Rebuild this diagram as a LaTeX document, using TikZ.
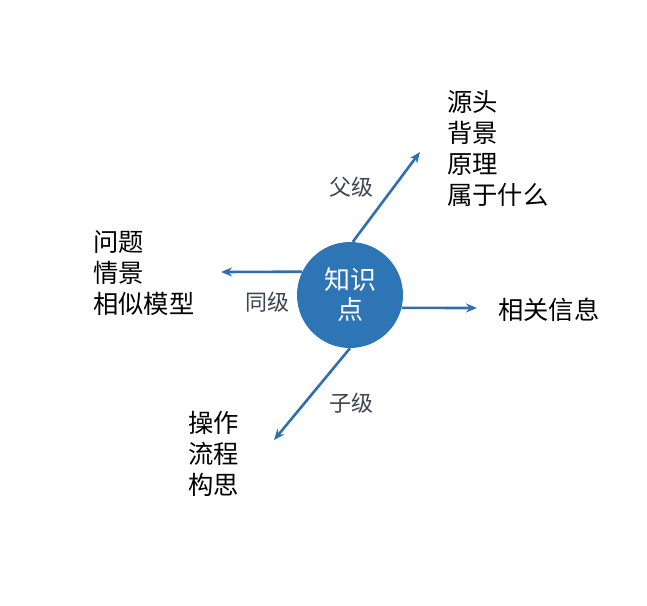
\documentclass[tikz,border=0pt]{standalone}
\usepackage{fontspec}
\newfontfamily\cjk{Noto Sans CJK SC}
\usetikzlibrary{arrows.meta}
\definecolor{circblue}{HTML}{2E75B6}
\definecolor{arrblue}{HTML}{2F6EAF}
\definecolor{labgray}{HTML}{3C4550}
\tikzset{
  hub/.style={circle, fill=circblue, minimum size=106pt, inner sep=0pt, text=white, align=center, font=\cjk\fontsize{26}{30}\selectfont},
  link/.style={arrblue, line width=2.6pt, -{Stealth[length=11pt,width=9pt]}},
  lab/.style={text=labgray, inner sep=0pt, font=\cjk\fontsize{22}{25}\selectfont},
  info/.style={anchor=west, inner sep=0pt, align=left, text=black, font=\cjk\fontsize{25.3}{31}\selectfont}
}
\begin{document}
\begin{tikzpicture}[x=1pt,y=-1pt]
\useasboundingbox (0,0) rectangle (647,605);
\node[hub] (c) at (350,295) {知识\\点};
\coordinate (e1) at (420,152);
\coordinate (e2) at (221,272);
\coordinate (e3) at (477,308);
\coordinate (e4) at (274,440);
\draw[link] (c.87) -- (e1);
\draw[link] (c.154) -- (e2);
\draw[link] (c.-14) -- (e3);
\draw[link] (c.-90) -- (e4);
\node[lab] (l1) at (351,187) {父级};
\node[lab] (l2) at (267,302) {同级};
\node[lab] (l3) at (351,403) {子级};
\node[info] (t1) at (447,148.5) {源头\\背景\\原理\\属于什么};
\node[info] (t2) at (93,273) {问题\\情景\\相似模型};
\node[info] (t3) at (498,310) {相关信息};
\node[info] (t4) at (188,454) {操作\\流程\\构思};
\end{tikzpicture}
\end{document}
